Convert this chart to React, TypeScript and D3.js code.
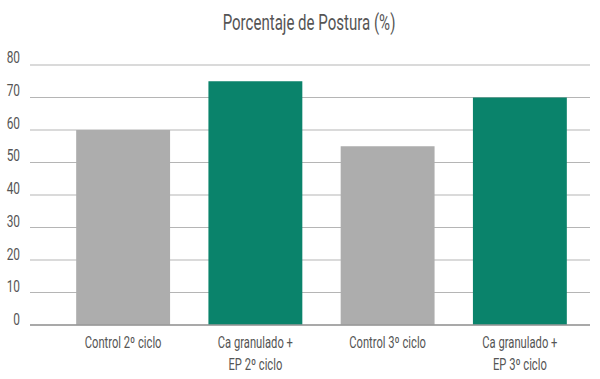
import React from "react";
import * as d3 from "d3";

const categories = ["Control 2º ciclo", "Ca granulado + EP 2º ciclo", "Control 3º ciclo", "Ca granulado + EP 3º ciclo"];
const labelLines = [["Control 2º ciclo"], ["Ca granulado +", "EP 2º ciclo"], ["Control 3º ciclo"], ["Ca granulado +", "EP 3º ciclo"]];
const values = [60, 75, 55, 70];
const barColors = ["#adadad", "#0a836b", "#adadad", "#0a836b"];
const yTicks = [0, 10, 20, 30, 40, 50, 60, 70, 80];
const title = "Porcentaje de Postura (%)";

const W = 600, H = 379;
const FONT = "Roboto, sans-serif";
const SX = 0.7;

function CText({ x, y, size, anchor = "middle", children }: { x: number; y: number; size: number; anchor?: string; children: React.ReactNode }) {
  return (
    <text transform={`translate(${x},${y}) scale(${SX},1)`} textAnchor={anchor} fontSize={size} fill="#555" fontFamily={FONT}>
      {children}
    </text>
  );
}

export default function App() {
  const y = d3.scaleLinear().domain([0, 80]).range([325, 65]);
  const yLabel = d3.scaleLinear().domain([0, 80]).range([325, 63]);
  const x = d3.scaleBand<string>().domain(categories).range([57, 586]).paddingInner(0.29).paddingOuter(0.145);
  return (
    <svg width={W} height={H} style={{ position: "absolute", left: 0, top: 0, background: "#fff" }}>
      <CText x={309} y={30} size={21.5}>{title}</CText>
      {yTicks.map(t => (
        <g key={t}>
          <line x1={30} x2={590} y1={y(t)} y2={y(t)} stroke="#b5b5b5" strokeWidth={1.2} />
          <CText x={20} y={yLabel(t)} size={17} anchor="end">{t}</CText>
        </g>
      ))}
      {categories.map((c, i) => (
        <rect key={c} x={x(c)} y={y(values[i])} width={x.bandwidth()} height={y(0) - y(values[i])} fill={barColors[i]} />
      ))}
      <line x1={30} x2={590} y1={y(0)} y2={y(0)} stroke="#999" strokeWidth={1.5} />
      {categories.map((c, i) =>
        labelLines[i].map((l, j) => (
          <CText key={c + j} x={(x(c) as number) + x.bandwidth() / 2} y={348 + j * 22} size={16}>{l}</CText>
        ))
      )}
    </svg>
  );
}
